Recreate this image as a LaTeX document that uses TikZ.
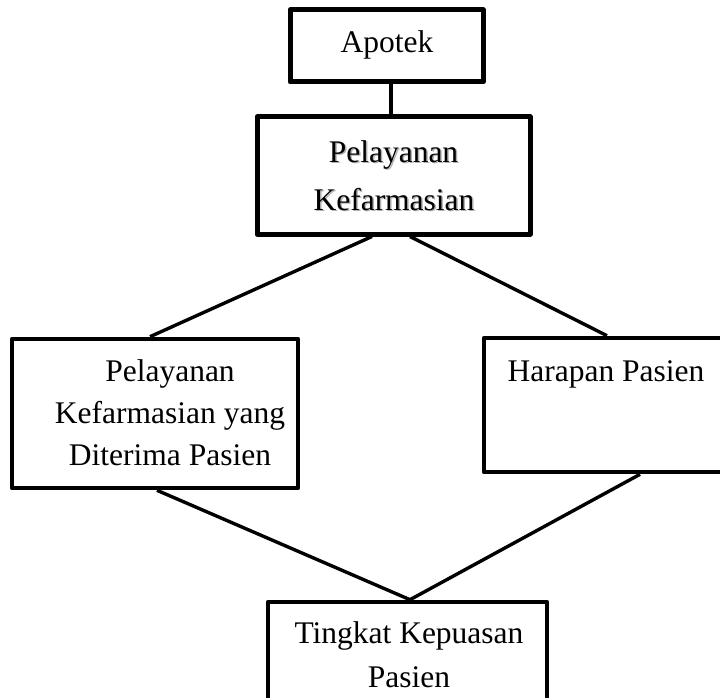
\documentclass[tikz,border=0pt]{standalone}
\usepackage{fontspec}
\setmainfont{Liberation Serif}
\begin{document}
\begin{tikzpicture}[x=1pt,y=-1pt,
  box/.style={draw=black,line width=5pt,line join=round,rectangle,inner sep=0pt},
  lbl/.style={anchor=base,inner sep=0pt,font=\fontsize{31.5}{40}\selectfont},
  shade/.style={lbl,text=black!30},
  conn/.style={draw=black,line width=3.4pt}]
\useasboundingbox (0,0) rectangle (720,698);
% boxes
\node[box,minimum width=193pt,minimum height=72pt] (apotek) at (386.5,46) {};
\node[box,minimum width=273pt,minimum height=117pt] (pk) at (393.5,175.5) {};
\node[box,line width=4.6pt,minimum width=286pt,minimum height=149pt] (lb) at (155,413.5) {};
\node[box,line width=4.6pt,minimum width=246pt,minimum height=134pt] (rb) at (607,405) {};
\node[box,line width=4.6pt,minimum width=279pt,minimum height=118pt] (bb) at (407.5,661) {};
% texts
\node[lbl] (t1) at (387,53) {Apotek};
\node[shade] (s2) at (395,163.5) {Pelayanan};
\node[shade] (s3) at (395.5,211.5) {Kefarmasian};
\node[lbl] (t2) at (393.5,162) {Pelayanan};
\node[lbl] (t3) at (394,210) {Kefarmasian};
\node[lbl] (t4) at (170,381) {Pelayanan};
\node[lbl] (t5) at (170,423) {Kefarmasian yang};
\node[lbl] (t6) at (170,465) {Diterima Pasien};
\node[lbl] (t7) at (606,381) {Harapan Pasien};
\node[lbl] (t8) at (409,643) {Tingkat Kepuasan};
\node[lbl] (t9) at (409,687) {Pasien};
% connectors
\draw[conn,line width=4.4pt] ([xshift=4.5pt]apotek.south) -- ([xshift=4.5pt]apotek.south |- pk.north);
\draw[conn] ([xshift=-21.5pt]pk.south) -- ([xshift=-5pt]lb.north);
\draw[conn] ([xshift=16.5pt]pk.south) -- (rb.north);
\draw[conn] ([xshift=2pt]lb.south) -- ([xshift=2.5pt]bb.north);
\draw[conn] ([xshift=33pt]rb.south) -- ([xshift=2.5pt]bb.north);
\end{tikzpicture}
\end{document}
